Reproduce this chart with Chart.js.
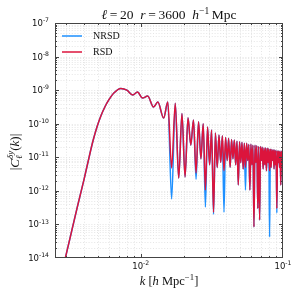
<!DOCTYPE html>
<html>
<head>
<meta charset="utf-8">
<script src="https://cdn.jsdelivr.net/npm/chart.js@4.4.0/dist/chart.umd.min.js"></script>
<style>
  html, body { margin: 0; padding: 0; background: #fff; }
  #wrap { position: relative; width: 300px; height: 300px; }
</style>
</head>
<body>
<div id="wrap"><canvas id="chart" width="300" height="300"></canvas></div>
<script>
// ---- data ----
var kValues = [
  0.0029, 0.0032, 0.0036, 0.0040, 0.00435, 0.00462, 0.00493, 0.00525, 0.0056, 0.00597,
  0.00648, 0.00725, 0.0080, 0.0088, 0.0095, 0.0103, 0.0112, 0.0123, 0.0132, 0.0145,
  0.0155, 0.0165, 0.0175,
  0.0185, 0.0195, 0.0205, 0.0215, 0.0225, 0.0235, 0.0245, 0.0255, 0.0265, 0.0275,
  0.0285, 0.0295, 0.0305, 0.0315, 0.0325, 0.0335, 0.0345, 0.0355, 0.0365, 0.0375,
  0.0385, 0.0395, 0.0405, 0.0415, 0.0425, 0.0435, 0.0445, 0.0455, 0.0465, 0.0475,
  0.0485, 0.0495, 0.0505, 0.0515, 0.0525, 0.0535, 0.0545, 0.0555, 0.0565, 0.0575,
  0.0585, 0.0595, 0.0605, 0.0615, 0.0625, 0.0635, 0.0645, 0.0655, 0.0665, 0.0675,
  0.0685, 0.0695, 0.0705, 0.0715, 0.0725, 0.0735, 0.0745, 0.0755, 0.0765, 0.0775,
  0.0785, 0.0795, 0.0805, 0.0815, 0.0825, 0.0835, 0.0845, 0.0855, 0.0865, 0.0875,
  0.0885, 0.0895, 0.0905, 0.0915, 0.0925, 0.0935, 0.0945, 0.0955, 0.0965, 0.0975,
  0.0985, 0.0995, 0.1
];

var rsdValues = [
  7.1e-15, 4.2e-14, 3.5e-13, 2.2e-12, 1.05e-11, 3.05e-11, 8.0e-11, 1.7e-10, 3.15e-10, 5.1e-10,
  8.2e-10, 1.12e-9, 1.0e-9, 7.2e-10, 8.8e-10, 5.8e-10, 6.7e-10, 3.15e-10, 4.4e-10, 1.48e-10,
  4.4e-10, 4.8e-12, 4.1e-10,
  2.4e-12, 2.0e-10, 2.6e-12, 1.5e-10, 2.3e-11, 1.3e-10, 3.4e-12, 1.15e-10, 9e-12, 1.0e-10,
  1.06e-12, 8.0e-11, 6e-12, 6.5e-11, 2.3e-13, 5.3e-11, 5e-12, 4.6e-11, 7e-12, 4.4e-11,
  4e-12, 3.9e-11, 8e-12, 3.7e-11, 5e-12, 3.4e-11, 9e-12, 3.3e-11, 6e-12, 3.0e-11,
  1.5e-12, 2.9e-11, 7e-12, 2.8e-11, 4.5e-12, 2.6e-11, 5e-12, 2.6e-11, 8e-12, 2.4e-11,
  1.06e-12, 2.45e-11, 6e-12, 2.3e-11, 8.4e-14, 2.3e-11, 7e-12, 2.2e-11, 3e-13, 2.1e-11,
  1.36e-13, 2.1e-11, 8e-12, 2.0e-11, 4.5e-12, 1.9e-11, 6e-12, 1.9e-11, 4e-12, 1.85e-11,
  7e-12, 1.8e-11, 4e-12, 1.75e-11, 5e-12, 1.7e-11, 8e-12, 1.65e-11, 4.5e-12, 1.65e-11,
  6e-12, 1.6e-11, 3e-13, 1.55e-11, 7e-12, 1.55e-11, 5e-12, 1.5e-11, 1.5e-12, 1.5e-11,
  5e-12, 1.45e-11, 1.5e-13
];

var nrsdValues = [
  7.1e-15, 4.2e-14, 3.5e-13, 2.2e-12, 1.05e-11, 3.05e-11, 8.0e-11, 1.7e-10, 3.15e-10, 5.1e-10,
  8.2e-10, 1.12e-9, 1.0e-9, 7.2e-10, 8.8e-10, 5.8e-10, 6.7e-10, 3.15e-10, 4.4e-10, 1.48e-10,
  4.4e-10, 5.7e-13, 4.1e-10,
  2.4e-12, 2.0e-10, 2.6e-12, 1.5e-10, 2.3e-11, 1.3e-10, 2.2e-12, 1.15e-10, 9e-12, 1.0e-10,
  3.3e-13, 8.0e-11, 6e-12, 6.5e-11, 2.0e-13, 5.3e-11, 5e-12, 4.6e-11, 7e-12, 4.4e-11,
  2.3e-13, 3.9e-11, 8e-12, 3.7e-11, 5e-12, 3.4e-11, 9e-12, 3.3e-11, 6e-12, 3.0e-11,
  1.5e-12, 2.9e-11, 7e-12, 2.8e-11, 4.5e-12, 2.6e-11, 1.06e-12, 2.6e-11, 8e-12, 2.4e-11,
  1.06e-12, 2.45e-11, 6e-12, 2.3e-11, 8.4e-14, 2.3e-11, 7e-12, 2.2e-11, 3e-13, 2.1e-11,
  1.36e-13, 2.1e-11, 8e-12, 2.0e-11, 4.5e-12, 1.9e-11, 6e-12, 1.9e-11, 4e-12, 1.85e-11,
  7e-12, 1.8e-11, 4.2e-14, 1.75e-11, 5e-12, 1.7e-11, 8e-12, 1.65e-11, 4.5e-12, 1.65e-11,
  6e-12, 1.6e-11, 2.2e-13, 1.55e-11, 7e-12, 1.55e-11, 5e-12, 1.5e-11, 1.5e-12, 1.5e-11,
  5e-12, 1.45e-11, 1e-15
];

var seriesNames = ['NRSD', 'RSD'];
var seriesColors = ['#1e90ff', '#dc143c'];
var xTickValues = [0.01, 0.1];
var yTickValues = [1e-14, 1e-13, 1e-12, 1e-11, 1e-10, 1e-9, 1e-8, 1e-7];
var xDecades = [0.001, 0.01, 0.1];
var yDecades = [1e-14, 1e-13, 1e-12, 1e-11, 1e-10, 1e-9, 1e-8, 1e-7];

function toPoints(ys) {
  return kValues.map(function(k, i) { return { x: k, y: ys[i] }; });
}

// ---- rich text (italic / sub / superscript) ----
var SERIF = '"Liberation Serif", "DejaVu Serif", serif';
var SANS = '"DejaVu Sans", sans-serif';
function partFont(p, size, family) {
  var s = size * (p.scale || 1);
  return (p.it ? 'italic ' : '') + s + 'px ' + (family || SERIF);
}
// align: 'center' (x is the middle) or 'right' (x is the right end)
function drawRich(ctx, parts, x, baseline, size, family, align) {
  var total = 0, i, p;
  for (i = 0; i < parts.length; i++) {
    p = parts[i];
    ctx.font = partFont(p, size, family);
    p.w = ctx.measureText(p.t).width;
  }
  for (i = 0; i < parts.length; i++) {
    p = parts[i];
    var prev = parts[i - 1];
    if (p.stack) p.adv = 0;
    else p.adv = (prev && prev.stack) ? Math.max(p.w, prev.w) : p.w;
    total += p.adv;
  }
  var cx = align === 'right' ? x - total : x - total / 2;
  ctx.textAlign = 'left';
  ctx.textBaseline = 'alphabetic';
  for (i = 0; i < parts.length; i++) {
    p = parts[i];
    ctx.font = partFont(p, size, family);
    ctx.fillText(p.t, cx, baseline + (p.dy || 0) * size);
    cx += p.adv;
  }
}

function powParts(v) {
  var e = Math.round(Math.log10(v));
  return [{ t: '10' }, { t: (e < 0 ? '-' : '') + Math.abs(e), scale: 0.72, dy: -0.45 }];
}

var titleParts = [
  { t: '\u2113', it: 1 }, { t: '\u2009=\u200920' }, { t: '  ' },
  { t: 'r', it: 1 }, { t: '\u2009=\u20093600' }, { t: '  ' },
  { t: 'h', it: 1 }, { t: '\u22121', scale: 0.7, dy: -0.4 }, { t: '\u2009Mpc' }
];
var xLabelParts = [
  { t: 'k', it: 1 }, { t: ' [' }, { t: 'h', it: 1 }, { t: ' Mpc' },
  { t: '\u22121', scale: 0.7, dy: -0.4 }, { t: ']' }
];
var yLabelParts = [
  { t: '|' }, { t: 'C', it: 1 }, { t: '\u03B4y', it: 1, scale: 0.7, dy: -0.45, stack: 1 },
  { t: '\u2113', it: 1, scale: 0.7, dy: 0.25 }, { t: '(' }, { t: 'k', it: 1 }, { t: ')|' }
];

// ---- plugins: grid, frame with inward ticks, labels, legend ----
var gridPlugin = {
  id: 'gridPlugin',
  beforeDatasetsDraw: function(chart) {
    var ctx = chart.ctx, a = chart.chartArea, xs = chart.scales.x, ys = chart.scales.y;
    ctx.save();
    ctx.strokeStyle = '#dedede';
    ctx.lineWidth = 0.8;
    ctx.setLineDash([1, 1.8]);
    xDecades.forEach(function(d) {
      for (var m = 1; m <= 9; m++) {
        var v = d * m;
        if (v <= xs.min || v >= xs.max) continue;
        var px = Math.round(xs.getPixelForValue(v)) + 0.5;
        ctx.beginPath(); ctx.moveTo(px, a.top); ctx.lineTo(px, a.bottom); ctx.stroke();
      }
    });
    yDecades.forEach(function(d) {
      for (var m = 1; m <= 9; m++) {
        var v = d * m;
        if (v <= ys.min || v >= ys.max) continue;
        var py = Math.round(ys.getPixelForValue(v)) + 0.5;
        ctx.beginPath(); ctx.moveTo(a.left, py); ctx.lineTo(a.right, py); ctx.stroke();
      }
    });
    ctx.restore();
  },
  afterDatasetsDraw: function(chart) {
    var ctx = chart.ctx, a = chart.chartArea, xs = chart.scales.x, ys = chart.scales.y;
    ctx.save();
    ctx.strokeStyle = '#444';
    ctx.lineWidth = 1;
    ctx.strokeRect(a.left + 0.5, a.top + 0.5, a.right - a.left - 1, a.bottom - a.top - 1);
    xDecades.forEach(function(d) {
      for (var m = 1; m <= 9; m++) {
        var v = d * m;
        if (v <= xs.min || v >= xs.max) continue;
        var len = m === 1 ? 4 : 2;
        var px = Math.round(xs.getPixelForValue(v)) + 0.5;
        ctx.beginPath();
        ctx.moveTo(px, a.bottom); ctx.lineTo(px, a.bottom - len);
        ctx.moveTo(px, a.top); ctx.lineTo(px, a.top + len);
        ctx.stroke();
      }
    });
    yDecades.forEach(function(d) {
      for (var m = 1; m <= 9; m++) {
        var v = d * m;
        if (v <= ys.min || v >= ys.max) continue;
        var len = m === 1 ? 4 : 2;
        var py = Math.round(ys.getPixelForValue(v)) + 0.5;
        ctx.beginPath();
        ctx.moveTo(a.left, py); ctx.lineTo(a.left + len, py);
        ctx.moveTo(a.right, py); ctx.lineTo(a.right - len, py);
        ctx.stroke();
      }
    });
    ctx.restore();
  },
  afterDraw: function(chart) {
    var ctx = chart.ctx, a = chart.chartArea, xs = chart.scales.x, ys = chart.scales.y;
    ctx.save();
    ctx.fillStyle = '#111';
    // tick labels
    yTickValues.forEach(function(v) {
      drawRich(ctx, powParts(v), a.left - 6, ys.getPixelForValue(v) + 3, 8.5, SANS, 'right');
    });
    xTickValues.forEach(function(v) {
      drawRich(ctx, powParts(v), xs.getPixelForValue(v), a.bottom + 11, 8.5, SANS, 'center');
    });
    // title and axis titles
    drawRich(ctx, titleParts, (a.left + a.right) / 2, 19, 13.5);
    drawRich(ctx, xLabelParts, (a.left + a.right) / 2, 285, 12.5);
    ctx.translate(19, 152);
    ctx.rotate(-Math.PI / 2);
    drawRich(ctx, yLabelParts, 0, 0, 13);
    ctx.restore();

    // legend inside the axes, upper left
    ctx.save();
    ctx.font = '10px ' + SERIF;
    ctx.textBaseline = 'middle';
    ctx.textAlign = 'left';
    seriesNames.forEach(function(name, i) {
      var y = 36 + i * 16;
      ctx.strokeStyle = seriesColors[i];
      ctx.lineWidth = 1.5;
      ctx.beginPath(); ctx.moveTo(62, y); ctx.lineTo(82, y); ctx.stroke();
      ctx.fillStyle = '#111';
      ctx.fillText(name, 93, y + 0.5);
    });
    ctx.restore();
  }
};

var chart = new Chart(document.getElementById('chart').getContext('2d'), {
  type: 'line',
  data: {
    datasets: [
      { label: seriesNames[0], data: toPoints(nrsdValues), borderColor: seriesColors[0], order: 1 },
      { label: seriesNames[1], data: toPoints(rsdValues), borderColor: seriesColors[1], order: 0 }
    ]
  },
  options: {
    responsive: false,
    animation: false,
    layout: { padding: { left: 0, right: 17, top: 23, bottom: 0 } },
    elements: {
      point: { radius: 0 },
      line: { borderWidth: 1.5, fill: false, cubicInterpolationMode: 'monotone' }
    },
    plugins: { legend: { display: false }, tooltip: { enabled: false } },
    scales: {
      x: {
        type: 'logarithmic', min: 0.0025, max: 0.1,
        grid: { display: false, drawTicks: false },
        border: { display: false },
        afterBuildTicks: function(s) { s.ticks = xTickValues.map(function(v) { return { value: v }; }); },
        afterFit: function(s) { s.height = 42; },
        ticks: { display: false }
      },
      y: {
        type: 'logarithmic', min: 1e-14, max: 1e-7,
        grid: { display: false, drawTicks: false },
        border: { display: false },
        afterBuildTicks: function(s) { s.ticks = yTickValues.map(function(v) { return { value: v }; }); },
        afterFit: function(s) { s.width = 55; },
        ticks: { display: false }
      }
    }
  },
  plugins: [gridPlugin]
});
</script>
</body>
</html>
